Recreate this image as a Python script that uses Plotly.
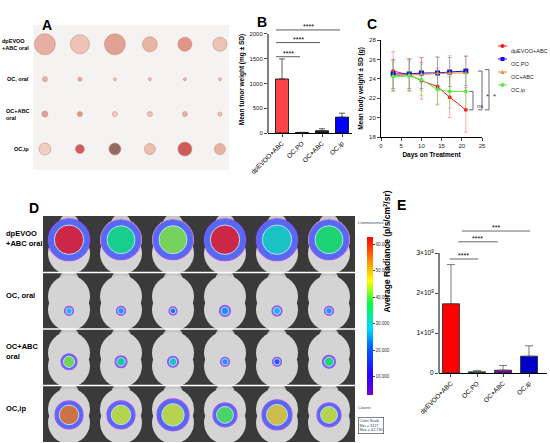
import plotly.graph_objects as go

W, H = 550, 443

# ---- panel A: tumour photo (sizes in px, per row / mouse) ----
photo_rows = ["dpEVOO<br>+ABC oral", "OC, oral", "OC+ABC<br>oral", "OC,ip"]
tumor_size = [[21, 19, 21, 15, 14, 14],
              [5, 4, 3, 3, 3, 3],
              [6, 5, 5, 5, 5, 4],
              [12, 9, 12, 11, 14, 11]]
tumor_color = [["#e0957f", "#eab09a", "#d8806c", "#e49a84", "#d8705e", "#eab09a"],
               ["#e49a84", "#dc8a74", "#f0b8a4", "#eab09a", "#e49a84", "#eab09a"],
               ["#d8806c", "#d8705e", "#f0c0a8", "#eab09a", "#e49a84", "#eab09a"],
               ["#efc0a8", "#c0201c", "#6a3424", "#e8a890", "#c01c18", "#e09a80"]]

# ---- panel B: tumour weight ----
groups = ["dpEVOO+ABC", "OC,PO", "OC+ABC", "OC,ip"]
weight_mean = [1090, 10, 45, 320]
weight_sd = [405, 6, 40, 80]

# ---- panel C: body weight ----
days = [3, 7, 10, 14, 17, 21]
bw_names = ["dpEVOO+ABC", "OC,PO", "OC+ABC", "OC,ip"]
bw_mean = [[24.8, 24.4, 23.8, 23.2, 22.1, 20.8],
           [24.5, 24.5, 24.6, 24.6, 24.7, 24.8],
           [24.3, 24.4, 24.5, 24.6, 24.6, 24.6],
           [24.2, 24.3, 23.9, 22.9, 22.7, 22.7]]
bw_sd = [[2.0, 1.7, 1.9, 1.9, 2.1, 2.3],
         [1.5, 1.5, 1.6, 1.6, 1.5, 1.5],
         [1.6, 1.6, 1.7, 1.7, 1.8, 1.8],
         [1.5, 1.5, 1.6, 1.5, 1.7, 1.8]]

# ---- panel D: IVIS images (peak radiance and spot size per mouse) ----
ivis_rows = ["dpEVOO<br>+ABC oral", "OC, oral", "OC+ABC<br>oral", "OC,ip"]
ivis_peak = [[62000, 36000, 42000, 62000, 32000, 38000],
             [28000, 25000, 22000, 25000, 28000, 25000],
             [42000, 35000, 32000, 25000, 20000, 38000],
             [55000, 45000, 45000, 40000, 48000, 45000]]
ivis_spot = [[42, 40, 40, 42, 42, 40],
             [9, 9, 8, 11, 10, 9],
             [16, 12, 11, 9, 9, 13],
             [28, 28, 32, 24, 30, 24]]

# ---- panel E: average radiance ----
rad_mean = [1.73e9, 0.03e9, 0.07e9, 0.42e9]
rad_sd = [0.98e9, 0.03e9, 0.12e9, 0.26e9]

FONT = "Liberation Sans"


def px(x):
    return x / W


def py(y):
    return 1 - y / H


def dom_x(a, b):
    return [px(a), px(b)]


def dom_y(top, bottom):
    return [py(bottom), py(top)]


fig = go.Figure()
shapes = []
ann = []

# ======== A ========
xa, ya = [], []
sa, ca = [], []
for r in range(4):
    for c in range(6):
        xa.append(c + 1)
        ya.append(r + 1)
        sa.append(tumor_size[r][c])
        ca.append(tumor_color[r][c])
fig.add_trace(go.Scatter(x=xa, y=ya, mode="markers", xaxis="x", yaxis="y",
                         marker=dict(size=sa, color=ca, line=dict(width=0.6, color="#c06058")),
                         showlegend=False, hoverinfo="skip"))
shapes.append(dict(type="rect", xref="x domain", yref="y domain", x0=0, x1=1, y0=0, y1=1,
                   fillcolor="#f4f3f2", line=dict(width=0), layer="below"))
for r, lab in enumerate(photo_rows):
    ann.append(dict(text="<b>" + lab + "</b>", x=px(31), xref="paper", y=r + 1, yref="y",
                    xanchor="right", align="left", showarrow=False,
                    font=dict(size=5.5, family=FONT, color="black")))

# ======== B ========
fig.add_trace(go.Bar(x=groups, y=weight_mean, xaxis="x2", yaxis="y2", width=0.65,
                     marker=dict(color=["#ff4545", "#222222", "#222222", "#0000ff"],
                                 line=dict(color="black", width=0.8)),
                     error_y=dict(type="data", array=weight_sd, arrayminus=[0] * 4, symmetric=False,
                                  color="#333333", thickness=0.8, width=3),
                     showlegend=False))
shapes.append(dict(type="line", xref="x2 domain", yref="y2", x0=0, x1=0, y0=0, y1=2000,
                   line=dict(color="black", width=1)))
for (c0, c1, yv, star) in [(0, 1, 1540, "****"), (0, 2, 1825, "****"), (0, 3, 2080, "****")]:
    shapes.append(dict(type="line", xref="x2", yref="y2", x0=c0 - 0.3, x1=c1 - 0.1, y0=yv, y1=yv,
                       line=dict(color="#333333", width=0.8)))
    ann.append(dict(text=star, x=(c0 - 0.3 + c1 - 0.1) / 2, xref="x2", y=yv, yref="y2",
                    yanchor="bottom", showarrow=False, yshift=-2,
                    font=dict(size=7, family=FONT, color="black")))

# ======== C ========
col_c = ["#ff1a1a", "#1010d0", "#e08a3c", "#55ee44"]
err_c = ["rgba(255,60,60,0.55)", "rgba(40,40,220,0.5)", "rgba(225,140,60,0.55)", "rgba(90,230,70,0.55)"]
sym_c = ["circle", "square", "triangle-up", "circle"]
for i in range(4):
    fig.add_trace(go.Scatter(x=days, y=bw_mean[i], name=bw_names[i], xaxis="x3", yaxis="y3",
                             mode="lines+markers",
                             line=dict(color=col_c[i], width=1),
                             marker=dict(color=col_c[i], size=4 if i != 1 else 5, symbol=sym_c[i]),
                             error_y=dict(type="data", array=bw_sd[i], color=err_c[i],
                                          thickness=0.8, width=2),
                             showlegend=False))
y3_dom = dom_y(40, 137)


def c_py(v):
    return y3_dom[0] + (v - 18) / 10 * (y3_dom[1] - y3_dom[0])


for (xv, lo, hi, mark) in [(473, bw_mean[0][-1], bw_mean[3][-1], "ns"),
                           (482, bw_mean[0][-1], bw_mean[1][-1], "*"),
                           (489, bw_mean[0][-1], bw_mean[1][-1] + 0.15, "*")]:
    y0, y1 = c_py(lo), c_py(hi)
    shapes.append(dict(type="path", xref="paper", yref="paper",
                       path="M %f %f L %f %f L %f %f L %f %f" % (px(xv - 4), y0, px(xv), y0, px(xv), y1, px(xv - 4), y1),
                       line=dict(color="#444444", width=0.8)))
    ann.append(dict(text=mark, x=px(xv + 1.5), y=(y0 + y1) / 2, xref="paper", yref="paper",
                    xanchor="left", showarrow=False, font=dict(size=6 if mark == "ns" else 8, family=FONT)))

# hand-drawn legend for C
for i, name in enumerate(bw_names):
    yy = py(46 + 13 * i)
    shapes.append(dict(type="line", xref="paper", yref="paper", x0=px(498), x1=px(507), y0=yy, y1=yy,
                       line=dict(color=col_c[i], width=1)))
    if i == 1:
        shapes.append(dict(type="rect", xref="paper", yref="paper", x0=px(500.5), x1=px(504.5),
                           y0=yy - 2 / H, y1=yy + 2 / H, fillcolor=col_c[i], line=dict(width=0)))
    elif i == 2:
        shapes.append(dict(type="path", xref="paper", yref="paper",
                           path="M %f %f L %f %f L %f %f Z" % (px(500.5), yy - 2 / H, px(504.5), yy - 2 / H, px(502.5), yy + 2 / H),
                           fillcolor=col_c[i], line=dict(width=0)))
    else:
        shapes.append(dict(type="circle", xref="paper", yref="paper", x0=px(500.5), x1=px(504.5),
                           y0=yy - 2 / H, y1=yy + 2 / H, fillcolor=col_c[i], line=dict(width=0)))
    ann.append(dict(text=name, x=px(509), y=yy, xref="paper", yref="paper", xanchor="left",
                    showarrow=False, font=dict(size=5.5, family=FONT, color="#222222")))

# ======== D ========
xb, yb1, yb2 = [], [], []
xh, yh = [], []
xs, ys, ss, cs, ss2 = [], [], [], [], []
spot_shift = [-0.08, 0.18, 0.08, 0.02]
for r in range(4):
    for c in range(6):
        xb.append(c + 1)
        yb1.append(r + 1 - 0.08)
        yb2.append(r + 1 + 0.16)
        xh.append(c + 1)
        yh.append(r + 1 - 0.36)
        xs.append(c + 1)
        ys.append(r + 1 + spot_shift[r])
        ss.append(ivis_spot[r][c])
        ss2.append(ivis_spot[r][c] * 0.7)
        cs.append(ivis_peak[r][c])
shapes.append(dict(type="rect", xref="x4 domain", yref="y4 domain", x0=0, x1=1, y0=0, y1=1,
                   fillcolor="#3a3a3a", line=dict(width=0), layer="below"))
fig.add_trace(go.Scatter(x=xh, y=yh, mode="markers", xaxis="x4", yaxis="y4",
                         marker=dict(size=20, color="#c4c4c4"), showlegend=False, hoverinfo="skip"))
fig.add_trace(go.Scatter(x=xb + xb, y=yb1 + yb2, mode="markers", xaxis="x4", yaxis="y4",
                         marker=dict(size=42, color="#d4d4d4", line=dict(width=0)),
                         showlegend=False, hoverinfo="skip"))
jet = [[0, "#7a00d0"], [0.12, "#2a00ff"], [0.3, "#0060ff"], [0.42, "#00d8ff"],
       [0.58, "#00ff40"], [0.72, "#ffff00"], [0.86, "#ff8000"], [1, "#ff0000"]]
fig.add_trace(go.Scatter(x=xs, y=ys, mode="markers", xaxis="x4", yaxis="y4",
                         marker=dict(size=ss, color="#1c40ff", line=dict(width=1.2, color="#8a1cff")),
                         showlegend=False, hoverinfo="skip"))
fig.add_trace(go.Scatter(x=xs, y=ys, mode="markers", xaxis="x4", yaxis="y4",
                         marker=dict(size=ss2, color=cs, colorscale=jet, cmin=3127, cmax=62730,
                                     showscale=True,
                                     colorbar=dict(x=px(357), xanchor="left", y=py(316), yanchor="middle",
                                                   len=178 / H, thickness=6, outlinewidth=0,
                                                   tickvals=[10000, 20000, 30000, 40000, 50000, 60000],
                                                   ticktext=["10,000", "20,000", "30,000", "40,000", "50,000", "60,000"],
                                                   ticks="outside", ticklen=2,
                                                   tickfont=dict(size=4.5, family=FONT, color="#333333"))),
                         showlegend=False, hoverinfo="skip"))
for k in (1.5, 2.5, 3.5):
    shapes.append(dict(type="line", xref="x4 domain", yref="y4", x0=0, x1=1, y0=k, y1=k,
                       line=dict(color="white", width=1.5)))
for r, lab in enumerate(ivis_rows):
    ann.append(dict(text="<b>" + lab + "</b>", x=px(4), xref="paper", y=r + 1 - 0.1, yref="y4",
                    xanchor="left", align="left", showarrow=False,
                    font=dict(size=7.5, family=FONT, color="black")))
ann.append(dict(text="Luminescence", x=px(356), y=py(223), xref="paper", yref="paper", xanchor="left",
                showarrow=False, font=dict(size=4, family=FONT)))
ann.append(dict(text="Counts", x=px(356), y=py(412), xref="paper", yref="paper", xanchor="left",
                showarrow=False, font=dict(size=4, family=FONT)))
ann.append(dict(text="Color Scale<br>Min = 3127<br>Max = 62,730", x=px(358), y=py(417), xref="paper",
                yref="paper", xanchor="left", yanchor="top", align="left", showarrow=False,
                bordercolor="#333333", borderwidth=0.6, borderpad=1,
                font=dict(size=3.8, family=FONT)))
# y-title of E sits between D's colour bar and E's tick labels
ann.append(dict(text="<b>Average Radiance (p/s/cm<sup>2</sup>/sr)</b>", x=px(394), y=py(315),
                xref="paper", yref="paper", textangle=-90, showarrow=False,
                font=dict(size=8.5, family=FONT, color="black")))

# ======== E ========
fig.add_trace(go.Bar(x=groups, y=rad_mean, xaxis="x5", yaxis="y5", width=0.65,
                     marker=dict(color=["#ff0000", "#1f7a3a", "#7a0aa8", "#0000c8"],
                                 line=dict(color="#222222", width=0.8)),
                     error_y=dict(type="data", array=rad_sd, arrayminus=[0] * 4, symmetric=False,
                                  color="#555555", thickness=0.8, width=4),
                     showlegend=False))
shapes.append(dict(type="line", xref="x5 domain", yref="y5", x0=0, x1=0, y0=0, y1=3e9,
                   line=dict(color="black", width=1)))
for (c0, c1, yv, star) in [(-0.05, 1.05, 2.85e9, "****"), (0.27, 1.8, 3.28e9, "****"), (0.42, 3.04, 3.55e9, "***")]:
    shapes.append(dict(type="line", xref="x5", yref="y5", x0=c0, x1=c1, y0=yv, y1=yv,
                       line=dict(color="#444444", width=0.8)))
    ann.append(dict(text=star, x=(c0 + c1) / 2, xref="x5", y=yv, yref="y5",
                    yanchor="bottom", showarrow=False, yshift=-2,
                    font=dict(size=7, family=FONT, color="black")))

# panel letters
for (t, x, y) in [("A", 40, 15), ("B", 262, 12), ("C", 379, 14), ("D", 27, 208), ("E", 408, 205)]:
    ann.append(dict(text="<b>" + t + "</b>", x=px(x), y=py(y), xref="paper", yref="paper",
                    showarrow=False, font=dict(size=14, family=FONT, color="black")))

tick_font = dict(size=6, family=FONT, color="#222222")
title_font = dict(size=6.5, family=FONT, color="black")
bar_x = dict(showline=True, linecolor="black", linewidth=1, ticks="outside", ticklen=3, automargin=False,
             tickangle=-45, tickfont=dict(size=6.5, family=FONT, color="black"), showgrid=False)
hidden = dict(visible=False, showgrid=False, zeroline=False, automargin=False)

fig.update_layout(
    width=W, height=H, margin=dict(l=0, r=0, t=0, b=0, autoexpand=False),
    paper_bgcolor="white", plot_bgcolor="rgba(0,0,0,0)",
    font=dict(family=FONT), showlegend=False,
    xaxis=dict(domain=dom_x(33, 229), range=[0.66, 6.26], **hidden),
    yaxis=dict(domain=dom_y(25, 170), range=[4.6, 0.45], **hidden),
    xaxis2=dict(domain=dom_x(268, 352), anchor="y2", range=[-0.7, 3.5], **bar_x),
    yaxis2=dict(domain=dom_y(26, 133), anchor="x2", range=[0, 2160], showline=False, automargin=False,
                tickvals=[0, 500, 1000, 1500, 2000], ticks="outside", ticklen=3,
                tickfont=tick_font, showgrid=False, zeroline=False,
                title=dict(text="<b>Mean tumor weight (mg ± SD)</b>", font=title_font, standoff=4)),
    xaxis3=dict(domain=dom_x(381, 482), anchor="y3", range=[0, 25], tickvals=[0, 5, 10, 15, 20, 25],
                showline=True, linecolor="black", linewidth=1, ticks="outside", ticklen=3, automargin=False,
                tickfont=tick_font, showgrid=False, zeroline=False,
                title=dict(text="<b>Days on Treatment</b>", font=title_font, standoff=4)),
    yaxis3=dict(domain=dom_y(40, 137), anchor="x3", range=[18, 28], tickvals=[18, 20, 22, 24, 26, 28],
                showline=True, linecolor="black", linewidth=1, ticks="outside", ticklen=3, automargin=False,
                tickfont=tick_font, showgrid=False, zeroline=False,
                title=dict(text="<b>Mean body weight ± SD (g)</b>", font=title_font, standoff=4)),
    xaxis4=dict(domain=dom_x(43, 355), range=[0.5, 6.5], **hidden),
    yaxis4=dict(domain=dom_y(216, 442), range=[4.5, 0.5], **hidden),
    xaxis5=dict(domain=dom_x(439, 547), anchor="y5", range=[-0.46, 3.69], **bar_x),
    yaxis5=dict(domain=dom_y(225, 373), anchor="x5", range=[0, 3.7e9], showline=False, automargin=False,
                tickvals=[0, 1e9, 2e9, 3e9],
                ticktext=["0", "1×10<sup>9</sup>", "2×10<sup>9</sup>", "3×10<sup>9</sup>"],
                ticks="outside", ticklen=3, tickfont=dict(size=6.5, family=FONT, color="black"),
                showgrid=False, zeroline=False),
    shapes=shapes, annotations=ann,
)

# the page's default 8px body margin would shift the whole figure
fig.write_html("out.html", config={"displayModeBar": False},
               post_script="document.body.style.margin='0px';")
